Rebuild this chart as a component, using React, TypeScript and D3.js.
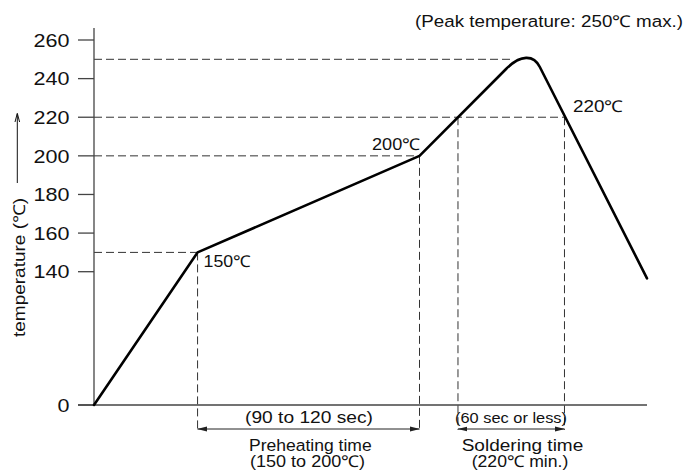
import React from 'react';
import * as d3 from 'd3';

// reflow profile: time (sec) and temperature (℃)
const profileTime = [0, 56, 176, 228, 239, 299];
const profileTemp = [0, 150, 200, 250, 250, 133];

const yTicks = [0, 140, 160, 180, 200, 220, 240, 260];
const pointLabels = ['150℃', '200℃', '220℃'];
const peakNote = '(Peak temperature: 250℃ max.)';

const preheatTemps = [150, 200];
const solderTemp = 220;
const peakTemp = 250;

const W = 685;
const H = 470;
const FONT = '"Liberation Sans", Arial, sans-serif';

type Pt = [number, number];

const pts: Pt[] = profileTime.map((t, i) => [t, profileTemp[i]]);

// point on segment a->b (extended if needed) at given temp
const along = (a: Pt, b: Pt, temp: number): Pt => {
  const f = (temp - a[1]) / (b[1] - a[1]);
  return [a[0] + f * (b[0] - a[0]), temp];
};

const Label: React.FC<{ x: number; y: number; w: number; size?: number; children: React.ReactNode }> =
  ({ x, y, w, size = 16.3, children }) => (
    <text x={x} y={y} fontSize={size} fill="#111" textLength={w} lengthAdjust="spacingAndGlyphs">
      {children}
    </text>
  );

const App: React.FC = () => {
  const x = d3.scaleLinear().domain([0, 299]).range([94, 647]);
  // broken axis: 0..140 is squeezed
  const y = d3.scaleLinear().domain([0, 140, 260]).range([405, 271.7, 40]);

  const line = d3.line<Pt>().x(d => x(d[0])).y(d => y(d[1]));

  // rounded peak: bezier between the rise and fall lines
  const a = along(pts[2], pts[3], peakTemp - 5);
  const c1 = along(pts[2], pts[3], peakTemp + 2.5);
  const c2 = along(pts[4], pts[5], peakTemp + 2.5);
  const b = along(pts[4], pts[5], peakTemp - 4);
  const cap = d3.path();
  cap.moveTo(x(a[0]), y(a[1]));
  cap.bezierCurveTo(x(c1[0]), y(c1[1]), x(c2[0]), y(c2[1]), x(b[0]), y(b[1]));
  const d =
    (line([pts[0], pts[1], pts[2], a]) || '') + cap.toString() + (line([b, pts[5]]) || '');

  const rise220 = along(pts[2], pts[3], solderTemp)[0];
  const fall220 = along(pts[4], pts[5], solderTemp)[0];
  const t150 = pts[1][0];
  const t200 = pts[2][0];

  const y0 = y(0);
  const dimY = y0 + 24;
  const vBottom = y0 + 25;

  const hGuides = [
    { temp: preheatTemps[0], t: t150 },
    { temp: preheatTemps[1], t: t200 },
    { temp: solderTemp, t: fall220 },
    { temp: peakTemp, t: 225 },
  ];
  const vGuides = [
    { t: t150, temp: preheatTemps[0] },
    { t: t200, temp: preheatTemps[1] },
    { t: rise220, temp: solderTemp },
    { t: fall220, temp: solderTemp },
  ];

  const dash = '8 4';
  const ink = '#333';

  return (
    <svg width={W} height={H} style={{ position: 'absolute', left: 0, top: 0, background: '#fff' }}
      fontFamily={FONT}>
      <defs>
        <marker id="ah" viewBox="0 0 10 6" refX="9.5" refY="3" markerWidth="10" markerHeight="6"
          markerUnits="userSpaceOnUse" orient="auto-start-reverse">
          <path d="M0,0.6 L10,3 L0,5.4 Z" fill="#222" />
        </marker>
      </defs>

      {/* guides */}
      {hGuides.map(g => (
        <line key={'h' + g.temp} x1={x(0)} x2={x(g.t)} y1={y(g.temp)} y2={y(g.temp)}
          stroke={ink} strokeWidth={1} strokeDasharray={dash} />
      ))}
      {vGuides.map(g => (
        <line key={'v' + g.t} x1={x(g.t)} x2={x(g.t)} y1={y(g.temp)} y2={vBottom}
          stroke={ink} strokeWidth={1} strokeDasharray={dash} />
      ))}

      {/* axes */}
      <line x1={x(0)} x2={x(0)} y1={28} y2={y0} stroke="#444" strokeWidth={1.3} />
      <line x1={78} x2={x(299)} y1={y0} y2={y0} stroke="#444" strokeWidth={1.3} />
      {yTicks.map(v => {
        const w = String(v).length * 12;
        return (
          <g key={v}>
            <line x1={78} x2={x(0)} y1={y(v)} y2={y(v)} stroke="#444" strokeWidth={1.3} />
            <Label x={69.5 - w} y={y(v) + 6.7} w={w} size={18.5}>{v}</Label>
          </g>
        );
      })}

      {/* y title with arrow */}
      <text transform={`translate(25,267.5) rotate(-90)`} textAnchor="middle" fontSize={16.3}
        fill="#111" textLength={139} lengthAdjust="spacingAndGlyphs">temperature (℃)</text>
      <line x1={17.3} x2={17.3} y1={183} y2={114} stroke="#111" strokeWidth={1} />
      <path d="M15,122 L17.3,113.3 L19.6,122" fill="none" stroke="#111" strokeWidth={1} />

      {/* profile */}
      <path d={d} fill="none" stroke="#000" strokeWidth={2.6} strokeLinecap="round" strokeLinejoin="round" />

      {/* labels */}
      <Label x={415} y={27} w={268}>{peakNote}</Label>
      <Label x={x(t150) + 6} y={267} w={47}>{pointLabels[0]}</Label>
      <Label x={x(t200) - 47.5} y={150} w={48}>{pointLabels[1]}</Label>
      <Label x={573} y={112} w={50}>{pointLabels[2]}</Label>

      {/* dimension lines */}
      <line x1={x(t150)} x2={x(t200)} y1={dimY} y2={dimY} stroke="#222" strokeWidth={1}
        markerStart="url(#ah)" markerEnd="url(#ah)" />
      <line x1={x(rise220)} x2={x(fall220)} y1={dimY} y2={dimY} stroke="#222" strokeWidth={1}
        markerStart="url(#ah)" markerEnd="url(#ah)" />

      <Label x={245} y={423.3} w={128}>(90 to 120 sec)</Label>
      <Label x={249} y={450.7} w={122.7}>Preheating time</Label>
      <Label x={250} y={467} w={115}>(150 to 200℃)</Label>

      <Label x={455} y={423.3} w={112} size={15.5}>(60 sec or less)</Label>
      <Label x={461.7} y={450.7} w={121.6}>Soldering time</Label>
      <Label x={471.7} y={467} w={96.6}>(220℃ min.)</Label>
    </svg>
  );
};

export default App;
